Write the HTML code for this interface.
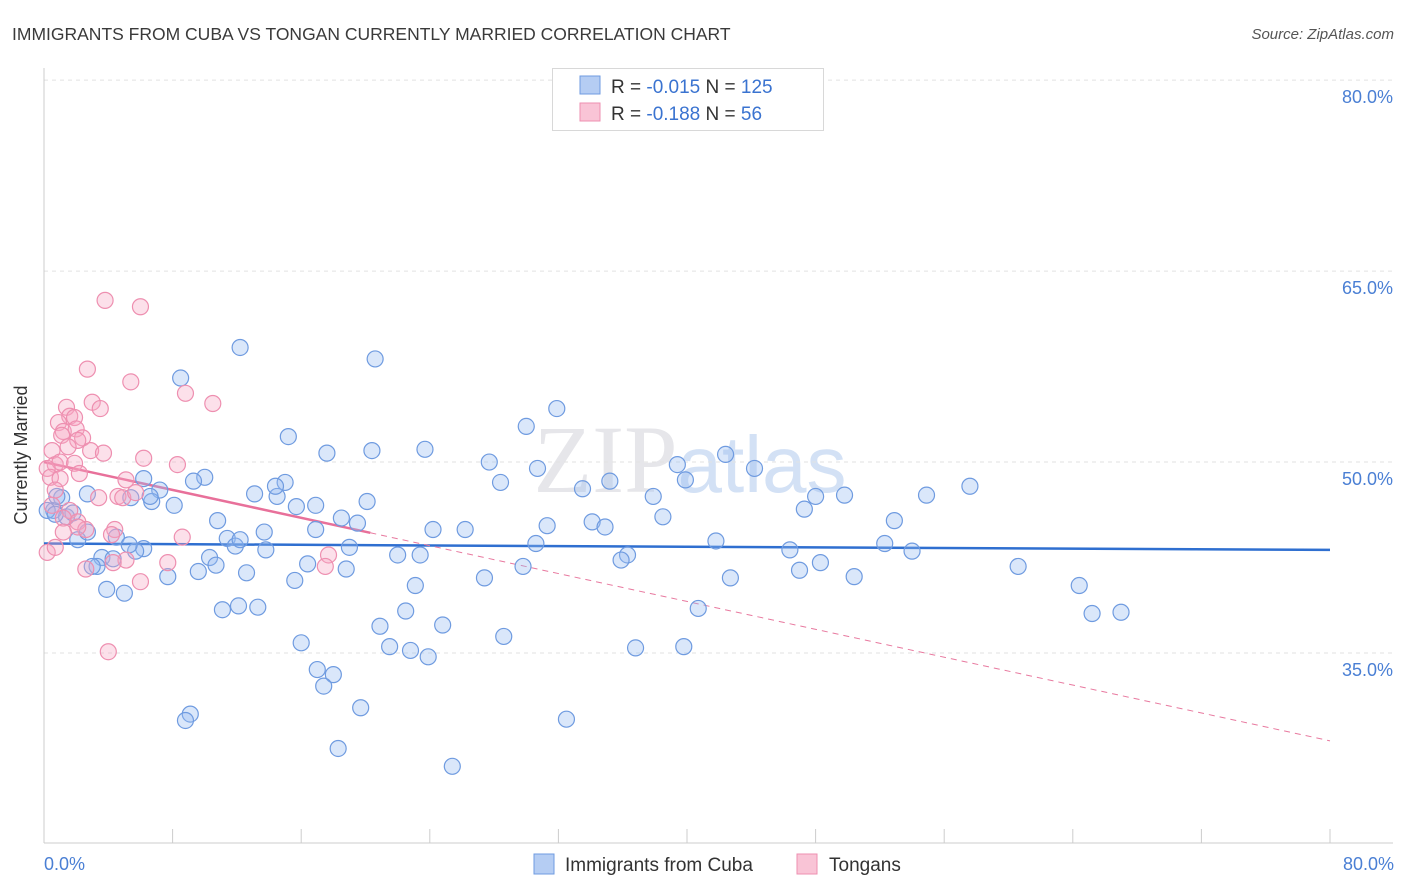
<!DOCTYPE html>
<html><head><meta charset="utf-8"><style>
body{margin:0;background:#fff;font-family:"Liberation Sans",sans-serif}
svg{display:block}
</style></head><body>
<svg id="c" width="1406" height="892" xmlns="http://www.w3.org/2000/svg">
<text x="12" y="40" font-size="17.5" fill="#3a3a3a">IMMIGRANTS FROM CUBA VS TONGAN CURRENTLY MARRIED CORRELATION CHART</text>
<text x="1394" y="39" font-size="15" fill="#555" font-style="italic" text-anchor="end">Source: ZipAtlas.com</text>
<text x="690" y="492" font-size="96" fill="#e6e6ea" text-anchor="middle" font-family="Liberation Serif,serif">ZIP<tspan fill="#d3e1f5" font-family="Liberation Sans,sans-serif" font-size="80">atlas</tspan></text>
<g id="grid"></g>
<g id="axes"></g>
<g id="trends"></g>
<g id="pts"></g>
<text x="27" y="455" font-size="18" fill="#333" text-anchor="middle" transform="rotate(-90 27 455)">Currently Married</text>
<text x="44" y="870" font-size="18" fill="#4a7fd4">0.0%</text>
<text x="1394" y="870" font-size="18" fill="#4a7fd4" text-anchor="end">80.0%</text>
<g>
<rect x="552.5" y="68.5" width="271" height="62" fill="#fff" stroke="#d8d8d8"/>
<rect x="580" y="76" width="20" height="18" fill="#b5cdf3" stroke="#6f9be0"/>
<rect x="580" y="103" width="20" height="18" fill="#f9c4d6" stroke="#ee8fb0"/>
<text x="611" y="93" font-size="19" fill="#333">R = <tspan fill="#3a73d0">-0.015</tspan>   N = <tspan fill="#3a73d0">125</tspan></text>
<text x="611" y="120" font-size="19" fill="#333">R =  <tspan fill="#3a73d0">-0.188</tspan>   N =   <tspan fill="#3a73d0">56</tspan></text>
</g>
<g>
<rect x="534" y="854" width="20" height="20" fill="#b5cdf3" stroke="#6f9be0"/>
<text x="565" y="871" font-size="19" fill="#333">Immigrants from Cuba</text>
<rect x="797" y="854" width="20" height="20" fill="#f9c4d6" stroke="#ee8fb0"/>
<text x="829" y="871" font-size="19" fill="#333">Tongans</text>
</g>
</svg>
<script>
const cubaX=[12.2,20.6,8.5,31.9,30.0,15.2,23.7,20.4,17.6,42.4,27.7,39.4,30.7,44.2,10.0,39.9,28.4,9.3,15.0,57.6,6.2,33.5,35.2,7.2,2.7,13.1,14.5,20.1,37.9,48.0,49.8,54.9,5.4,6.7,1.1,8.1,15.7,0.6,1.4,10.8,18.5,19.5,38.5,47.3,52.9,34.1,34.9,31.3,24.2,26.2,16.9,13.7,11.4,4.5,2.1,30.6,52.3,41.8,6.2,11.9,13.8,19.0,5.7,22.0,23.4,46.4,54.0,48.3,36.3,35.9,10.3,10.7,3.6,3.3,3.0,4.3,16.4,18.8,29.8,47.0,60.6,9.6,7.7,12.6,15.6,27.4,42.7,50.4,23.1,3.9,5.0,64.4,65.2,67.0,40.7,12.1,11.1,13.3,22.5,20.9,24.8,28.6,16.0,21.5,22.8,23.9,36.8,39.8,17.0,18.0,17.4,19.7,9.1,8.8,32.5,18.3,25.4,0.2,0.7,1.8,2.7,0.8,5.3,14.4,6.6,12.2,16.9];
const cubaY=[59.0,58.1,56.6,54.2,52.8,52.0,51.0,50.9,50.7,50.6,50.0,49.8,49.5,49.5,48.8,48.6,48.4,48.5,48.4,48.1,48.7,47.9,48.5,47.8,47.5,47.5,47.3,46.9,47.3,47.3,47.4,47.4,47.2,46.9,47.2,46.6,46.5,46.2,45.7,45.4,45.6,45.2,45.7,46.3,45.4,45.3,44.9,45.0,44.7,44.7,44.7,44.5,44.0,44.1,43.9,43.6,43.6,43.8,43.2,43.4,43.1,43.3,43.0,42.7,42.7,43.1,43.0,42.1,42.7,42.3,42.5,41.9,42.5,41.8,41.8,42.4,42.0,41.6,41.8,41.5,41.8,41.4,41.0,41.3,40.7,40.9,40.9,41.0,40.3,40.0,39.7,40.3,38.1,38.2,38.5,38.7,38.4,38.6,38.3,37.1,37.2,36.3,35.8,35.5,35.2,34.7,35.4,35.5,33.7,33.3,32.4,30.7,30.2,29.7,29.8,27.5,26.1,46.2,45.9,46.0,44.5,47.3,43.5,48.1,47.3,43.9,46.6];
const tongaX=[3.8,6.0,2.7,5.4,8.8,10.5,3.0,3.5,1.4,1.6,1.9,0.9,1.2,2.0,1.1,2.4,2.1,0.5,1.5,2.9,3.7,6.2,8.3,0.7,1.0,1.9,0.2,0.4,2.2,1.0,5.1,4.6,4.9,3.4,5.7,0.7,1.6,1.2,2.1,2.6,4.4,2.1,1.2,4.2,8.6,0.2,0.7,5.1,7.7,2.6,4.3,6.0,17.7,17.5,4.0,0.5];
const tongaY=[62.7,62.2,57.3,56.3,55.4,54.6,54.7,54.2,54.3,53.6,53.5,53.1,52.4,52.6,52.1,51.9,51.7,50.9,51.2,50.9,50.7,50.3,49.8,49.8,50.0,49.9,49.5,48.8,49.1,48.7,48.6,47.3,47.2,47.2,47.6,47.8,46.2,45.6,45.3,44.7,44.7,44.9,44.5,44.3,44.1,42.9,43.3,42.3,42.1,41.6,42.1,40.6,42.7,41.8,35.1,46.6];
const yTicks=[35,50,65,80];
const yTickLabels=["35.0%","50.0%","65.0%","80.0%"];
const xTicks=[0,8,16,24,32,40,48,56,64,72,80];
const cubaTrend=[43.6,43.1];
const tongaTrend=[50.0,28.1];
const tongaSolidEnd=20.3;

const NS="http://www.w3.org/2000/svg";
const X=v=>44+v*16.075;
const Y=v=>653-(v-35)*12.73;
function mk(tag,attrs,parent){const e=document.createElementNS(NS,tag);for(const k in attrs)e.setAttribute(k,attrs[k]);document.getElementById(parent).appendChild(e);return e;}

yTicks.forEach((t,i)=>{
  const l=mk('line',{x1:44,x2:1393,y1:Y(t),y2:Y(t),stroke:'#e2e2e2','stroke-dasharray':'4,4'},'grid');
  
  
  const tx=mk('text',{x:1393,y:Y(t)+23,'font-size':18,fill:'#4a7fd4','text-anchor':'end'},'grid');
  tx.textContent=yTickLabels[i];
  
  
});
const ya=mk('line',{x1:44,x2:44,y1:68,y2:843,stroke:'#ccc'},'axes');


const xa=mk('line',{x1:44,x2:1393,y1:843,y2:843,stroke:'#ccc'},'axes');


xTicks.forEach(t=>{
  const l=mk('line',{x1:X(t),x2:X(t),y1:829,y2:843,stroke:'#ccc'},'axes');
  
  
});
const ct=mk('line',{x1:X(0),x2:X(80),y1:Y(cubaTrend[0]),y2:Y(cubaTrend[1]),stroke:'#2f6fd0','stroke-width':2.5},'trends');


const tAt=x=>tongaTrend[0]+(tongaTrend[1]-tongaTrend[0])*x/80;
const td=mk('line',{x1:X(tongaSolidEnd),x2:X(80),y1:Y(tAt(tongaSolidEnd)),y2:Y(tongaTrend[1]),stroke:'#e8799f','stroke-width':1,'stroke-dasharray':'6,5'},'trends');


const ts=mk('line',{x1:X(0),x2:X(tongaSolidEnd),y1:Y(tongaTrend[0]),y2:Y(tAt(tongaSolidEnd)),stroke:'#e8709a','stroke-width':2.5},'trends');


cubaX.forEach((x,i)=>{
  const c=mk('circle',{cx:X(x),cy:Y(cubaY[i]),r:8,fill:'rgba(150,185,240,0.35)',stroke:'#6f9be0','stroke-width':1.2},'pts');
  
  
});
tongaX.forEach((x,i)=>{
  const c=mk('circle',{cx:X(x),cy:Y(tongaY[i]),r:8,fill:'rgba(245,165,195,0.35)',stroke:'#ee8fb0','stroke-width':1.2},'pts');
  
  
});
</script>
</body></html>
